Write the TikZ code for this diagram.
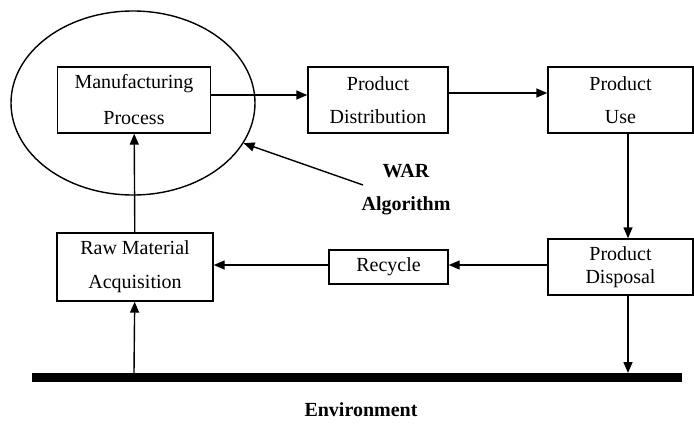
\documentclass[tikz,border=0pt]{standalone}
\usepackage{fontspec}
\setmainfont{Liberation Serif}
\usetikzlibrary{arrows.meta,shapes.geometric}

\tikzset{
  box/.style={draw,line width=0.7pt,align=center,inner sep=0pt,font=\fontsize{10}{18}\selectfont},
  flow/.style={line width=0.7pt,-{Triangle[length=5.5pt,width=4.5pt]}},
}

\begin{document}
\begin{tikzpicture}[x=0.5pt,y=-0.5pt]
\useasboundingbox (0,0) rectangle (694,428);
\node[draw,ellipse,line width=0.7pt,minimum width=122pt,minimum height=92pt] (ell) at (133,103) {};
\node[box,minimum width=76.5pt,minimum height=33pt] (mfg) at (134,100) {Manufacturing\\Process};
\node[box,minimum width=70pt,minimum height=33pt,font=\fontsize{10}{16.5}\selectfont] (dist) at (378,100) {Product\\Distribution};
\node[box,minimum width=72.5pt,minimum height=33pt,font=\fontsize{10}{16.5}\selectfont] (use) at (620.5,100) {Product\\Use};
\node[box,minimum width=72.5pt,minimum height=28pt,font=\fontsize{10}{11.5}\selectfont] (disp) at (620.5,267) {Product\\Disposal};
\node[box,minimum width=59.5pt,minimum height=17pt] (rec) at (388.5,267) {Recycle};
\node[box,minimum width=78pt,minimum height=34pt,font=\fontsize{10}{17}\selectfont] (raw) at (135,267) {Raw Material\\Acquisition};
\node[align=center,font=\bfseries\fontsize{10}{16.5}\selectfont] (war) at (406,190) {WAR\\Algorithm};
\node[font=\bfseries\fontsize{10}{12}\selectfont] (env) at (361,410) {Environment};
% environment bar
\coordinate (down) at (628,373);
\coordinate (up) at (134,373);
\coordinate (warend) at (363,185);
\draw[line width=4.5pt] (32,377.5) -- (682,377.5);
% flows
\draw[flow] (mfg.east |- 0,95) -- (dist.west |- 0,95);
\draw[flow] (dist.east |- 0,93) -- (use.west |- 0,93);
\draw[flow] (use.south -| down) -- (disp.north -| down);
\draw[flow] (disp.west |- 0,265) -- (rec.east |- 0,265);
\draw[flow] (rec.west |- 0,265) -- (raw.east |- 0,265);
\draw[flow] (raw) -- (mfg);
\draw[flow] (up) -- (raw);
\draw[flow] (disp.south -| down) -- (down);
\draw[flow] (warend) -- (ell.-20);
\end{tikzpicture}
\end{document}
